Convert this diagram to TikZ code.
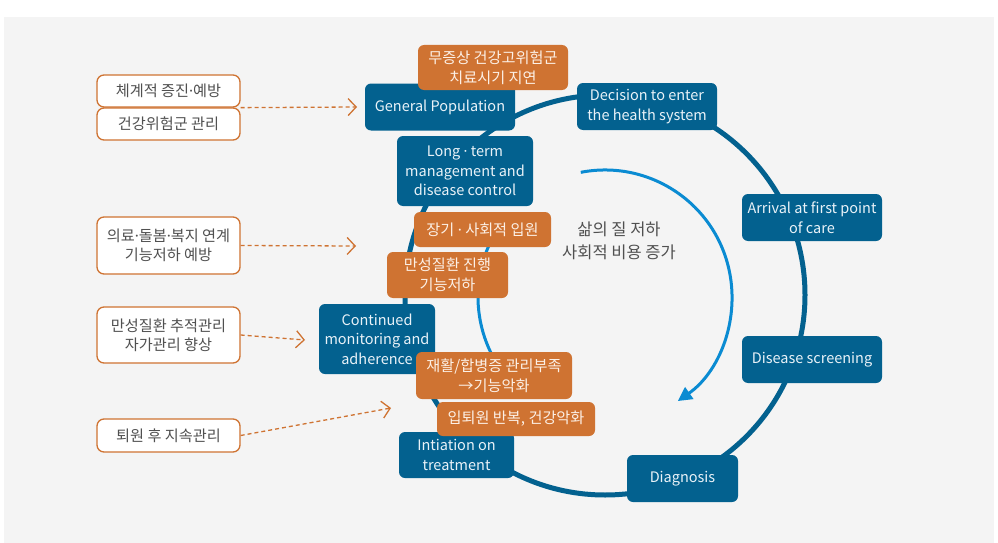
\documentclass[tikz,border=0pt]{standalone}
\usepackage{fontspec}
\setmainfont{Noto Sans CJK KR}
\newfontfamily\dotfont{Noto Sans}
\newcommand{\mdot}{{\dotfont ·}}
\usetikzlibrary{arrows.meta}
\definecolor{dblue}{HTML}{03618F}
\definecolor{lblue}{HTML}{0A8BD2}
\definecolor{orng}{HTML}{CF7332}
\definecolor{bgg}{HTML}{F4F4F4}
\definecolor{txtg}{HTML}{505050}
\definecolor{btxt}{HTML}{E9F2F8}
\definecolor{otxt}{HTML}{FCF0E6}
\tikzset{
  bluebox/.style={fill=dblue, text=btxt, rounded corners=6pt, align=center, inner sep=0pt,
    font=\fontsize{14.5}{19.5}\selectfont},
  orbox/.style={fill=orng, text=otxt, rounded corners=6pt, align=center, inner sep=0pt,
    font=\fontsize{15.2}{20}\selectfont},
  leftbox/.style={fill=white, draw=orng, line width=1.3pt, rounded corners=7pt, text=txtg,
    align=center, inner sep=0pt, font=\fontsize{15.2}{19}\selectfont},
  dasharrow/.style={draw=orng, line width=1.3pt, dash pattern=on 4pt off 3pt,
    -{Straight Barb[length=8pt,width=17pt,line width=1.3pt]}},
}
\begin{document}
\begin{tikzpicture}[x=1pt,y=-1pt]
\useasboundingbox (0,0) rectangle (998,543);
\fill[white] (0,0) rectangle (998,543);
\fill[bgg] (4,17) rectangle (994,543);
% big cycle
\draw[dblue, line width=5pt] (605,295) circle[radius=200pt];
% inner light blue arcs
\draw[lblue, line width=3pt, -{Triangle[length=14pt,width=14pt]}] (605,297) ++(101:127pt) arc[start angle=101, end angle=-55, radius=127pt];
\draw[lblue, line width=3pt] (605,297) ++(150:127pt) arc[start angle=150, end angle=232, radius=127pt];
% blue boxes
\node[bluebox, minimum width=150pt, minimum height=47pt] (gp) at (440,107) {General Population};
\node[bluebox, minimum width=140pt, minimum height=47pt] (dec) at (647,106.5) {Decision to enter\\the health system};
\node[bluebox, minimum width=140pt, minimum height=47pt] (arr) at (812,217.5) {Arrival at first point\\of care};
\node[bluebox, minimum width=140pt, minimum height=47pt] (scr) at (812,359.5) {Disease screening};
\node[bluebox, minimum width=111pt, minimum height=47pt] (dia) at (682.5,478.5) {Diagnosis};
\node[bluebox, minimum width=115pt, minimum height=46pt] (ini) at (456.5,455) {Intiation on\\treatment};
\node[bluebox, minimum width=116pt, minimum height=70pt] (con) at (377,339) {Continued\\monitoring and\\adherence};
\node[bluebox, minimum width=136pt, minimum height=70pt] (ltm) at (465,171) {Long \mdot{} term\\management and\\disease control};
% orange boxes
\node[orbox, minimum width=150pt, minimum height=45pt] (o1) at (493,67.5) {무증상 건강고위험군\\치료시기 지연};
\node[orbox, minimum width=137pt, minimum height=35pt] (o2) at (482.5,229.5) {장기 \mdot{} 사회적 입원};
\node[orbox, minimum width=121pt, minimum height=46pt] (o3) at (447.5,275) {만성질환 진행\\기능저하};
\node[orbox, minimum width=156pt, minimum height=47pt] (o4) at (494,375.5) {재활/합병증 관리부족\\→기능악화};
\node[orbox, minimum width=158pt, minimum height=34pt] (o5) at (516,419) {입퇴원 반복, 건강악화};
% center text
\node[text=txtg, align=center, font=\fontsize{16.5}{23}\selectfont] (ctr) at (619,241) {삶의 질 저하\\사회적 비용 증가};
% left boxes
\node[leftbox, minimum width=143pt, minimum height=32pt] (l1) at (168.5,91) {체계적 증진\mdot 예방};
\node[leftbox, minimum width=143pt, minimum height=32pt] (l2) at (168.5,124) {건강위험군 관리};
\node[leftbox, minimum width=143pt, minimum height=57pt] (l3) at (168.5,245.5) {의료\mdot 돌봄\mdot 복지 연계\\기능저하 예방};
\node[leftbox, minimum width=143pt, minimum height=56pt] (l4) at (168.5,335) {만성질환 추적관리\\자가관리 향상};
\node[leftbox, minimum width=143pt, minimum height=33pt] (l5) at (168.5,435.5) {퇴원 후 지속관리};
% arrow targets
\coordinate (t1) at (357,107);
\coordinate (t3) at (356,246);
\coordinate (t4) at (305,340);
\coordinate (t5) at (391,408);
\draw[dasharrow] (l1.south east) -- (t1);
\draw[dasharrow] (l3.east) -- (t3);
\draw[dasharrow] (l4.east) -- (t4);
\draw[dasharrow] (l5.east) -- (t5);
\end{tikzpicture}
\end{document}
